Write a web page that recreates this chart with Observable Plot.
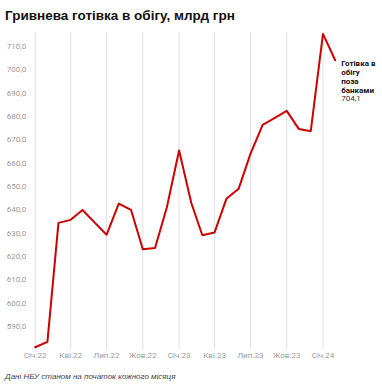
<!DOCTYPE html>
<html>
<head>
<meta charset="utf-8">
<script src="https://cdn.jsdelivr.net/npm/d3@7"></script>
<script src="https://cdn.jsdelivr.net/npm/@observablehq/plot@0.6"></script>
<style>
  body { margin: 0; background: #fff; width: 382px; overflow: hidden; }
  #title { height: 22px; padding: 8px 0 0 5px; font: bold 13.5px/16px "Liberation Sans", Arial, sans-serif; color: #111; white-space: nowrap; }
  #caption { padding: 7px 0 0 5px; font: italic 8px/10px "Liberation Sans", Arial, sans-serif; color: #444; white-space: nowrap; }
  #chart svg { display: block; }
</style>
</head>
<body>
<div id="title">Гривнева готівка в обігу, млрд грн</div>
<div id="chart"></div>
<div id="caption">Дані НБУ станом на початок кожного місяця</div>
<script>
const months = [
  "2022-01","2022-02","2022-03","2022-04","2022-05","2022-06","2022-07","2022-08","2022-09","2022-10","2022-11","2022-12",
  "2023-01","2023-02","2023-03","2023-04","2023-05","2023-06","2023-07","2023-08","2023-09","2023-10","2023-11","2023-12",
  "2024-01","2024-02"
];
const values = [
  581.1, 583.4, 634.4, 635.7, 639.9, 634.5, 629.3, 642.7, 640.0, 623.1, 623.6, 641.1,
  665.4, 642.9, 629.1, 630.3, 644.7, 649.0, 664.0, 676.4, 679.4, 682.4, 674.6, 673.7,
  715.4, 704.1
];
const tickMonths = ["2022-01","2022-04","2022-07","2022-10","2023-01","2023-04","2023-07","2023-10","2024-01"];
const tickLabels = ["Січ.22","Кві.22","Лип.22","Жов.22","Січ.23","Кві.23","Лип.23","Жов.23","Січ.24"];
const yTicks = [590, 600, 610, 620, 630, 640, 650, 660, 670, 680, 690, 700, 710];
const seriesLabel = "Готівка в\nобігу\nпоза\nбанками";
const lastValueLabel = "704,1";

const parse = s => new Date(s + "-01T00:00:00Z");
const data = months.map((m, i) => ({date: parse(m), value: values[i]}));
const tickDates = tickMonths.map(parse);
const labelMap = new Map(tickDates.map((d, i) => [+d, tickLabels[i]]));
const last = data[data.length - 1];

const chart = Plot.plot({
  width: 382,
  height: 335,
  marginLeft: 34.7,
  marginRight: 47.3,
  marginTop: 2,
  marginBottom: 15.7,
  style: {fontFamily: "Roboto, sans-serif", background: "transparent"},
  x: {type: "utc", domain: [parse(months[0]), parse(months[months.length - 1])], label: null},
  y: {domain: [580, 716], label: null},
  marks: [
    Plot.ruleX(tickDates, {stroke: "#e2e2e2", strokeWidth: 1}),
    Plot.axisX({ticks: tickDates, tickSize: 0, tickPadding: 3, fontSize: 8, fill: "#999", label: null,
      tickFormat: d => labelMap.get(+d)}),
    Plot.axisY({ticks: yTicks, tickSize: 0, tickPadding: 9, fontSize: 8, fill: "#999", label: null,
      tickFormat: d => d.toFixed(1).replace(".", ",")}),
    Plot.line(data, {x: "date", y: "value", stroke: "#cc0000", strokeWidth: 2}),
    Plot.text([last], {x: "date", y: "value", text: () => seriesLabel, textAnchor: "start",
      lineAnchor: "top", dx: 6, dy: -1, fontSize: 8, fontWeight: "bold", fill: "#111", lineHeight: 1.15}),
    Plot.text([last], {x: "date", y: "value", text: () => lastValueLabel, textAnchor: "start",
      lineAnchor: "top", dx: 6, dy: 35.5, fontSize: 8, fill: "#333"})
  ]
});
document.getElementById("chart").appendChild(chart);
</script>
</body>
</html>
